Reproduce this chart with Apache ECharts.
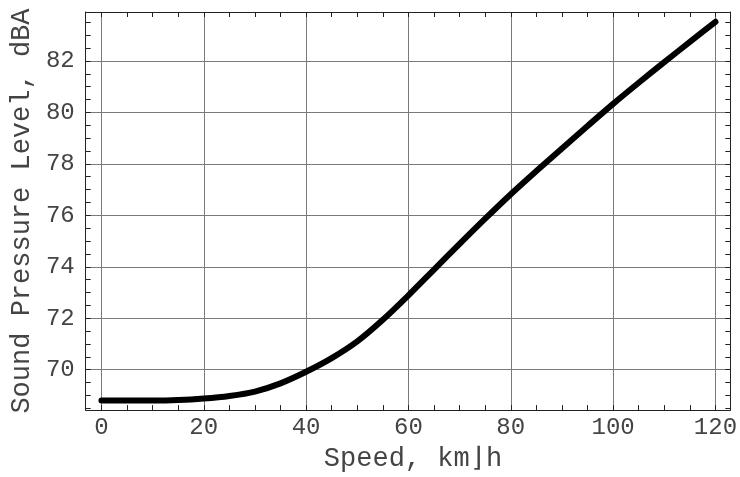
<!DOCTYPE html>
<html>
<head>
<meta charset="utf-8">
<script src="https://cdn.jsdelivr.net/npm/echarts@6/dist/echarts.min.js"></script>
<style>
  html, body { margin: 0; padding: 0; background: #fff; }
  #container { width: 740px; height: 477px; }
</style>
</head>
<body>
<div id="container"></div>
<script>
var dom = document.getElementById('container');
var myChart = echarts.init(dom);

// speed (km/h) -> sound pressure level (dBA)
var speed = [0, 5, 10, 15, 20, 25, 30, 35, 40, 45, 50, 55, 60, 65, 70, 75, 80, 85, 90, 95, 100, 105, 110, 115, 120];
var level = [68.8, 68.8, 68.8, 68.82, 68.88, 68.98, 69.15, 69.47, 69.92, 70.45, 71.1, 71.94, 72.89, 73.89, 74.89, 75.87, 76.82, 77.72, 78.6, 79.47, 80.33, 81.15, 81.95, 82.74, 83.52];

// tick positions
var xMajor = [0, 20, 40, 60, 80, 100, 120];
var xMinor = [0, 5, 10, 15, 20, 25, 30, 35, 40, 45, 50, 55, 60, 65, 70, 75, 80, 85, 90, 95, 100, 105, 110, 115, 120];
var yMajor = [70, 72, 74, 76, 78, 80, 82];
var yMinor = [68.5, 69, 69.5, 70, 70.5, 71, 71.5, 72, 72.5, 73, 73.5, 74, 74.5, 75, 75.5, 76, 76.5, 77, 77.5, 78, 78.5, 79, 79.5, 80, 80.5, 81, 81.5, 82, 82.5, 83, 83.5];

var xMin = -3.07, xMax = 122.9;
var yMin = 68.43, yMax = 83.9;

var data = speed.map(function (s, i) { return [s, level[i]]; });

var mono = "'Liberation Mono', 'DejaVu Sans Mono', monospace";
var frameColor = '#222';
var textColor = '#444';

// helper: an axis that only draws ticks (used for the frame)
function tickAxis(pos, min, max, ticks, extra) {
    var a = {
        type: 'value',
        position: pos,
        min: min,
        max: max,
        axisLine: { show: true, onZero: false, lineStyle: { color: frameColor, width: 1 } },
        axisTick: { show: true, inside: true, length: 5, customValues: ticks, lineStyle: { color: frameColor } },
        axisLabel: { show: false },
        splitLine: { show: false }
    };
    for (var k in extra) a[k] = extra[k];
    return a;
}

option = {
    backgroundColor: '#fff',
    animation: false,
    grid: {
        left: 83,
        right: 5,
        top: 12,
        bottom: 63
    },
    xAxis: [
        tickAxis('bottom', xMin, xMax, xMinor, {
            name: 'Speed, km\u230Bh',
            nameLocation: 'middle',
            nameGap: 34,
            nameTextStyle: { fontFamily: mono, fontSize: 27, color: textColor, padding: [0, 0, 0, 10] },
            axisLabel: { show: true, customValues: xMajor, margin: 6, fontFamily: mono, fontSize: 24, color: textColor }
        }),
        tickAxis('top', xMin, xMax, xMinor, {}),
        // gridlines
        {
            type: 'value', position: 'bottom', min: xMin, max: xMax,
            axisLine: { show: false },
            axisTick: { show: false, customValues: xMajor },
            axisLabel: { show: false },
            splitLine: { show: true, lineStyle: { color: '#7a7a7a', width: 1 } }
        }
    ],
    yAxis: [
        tickAxis('left', yMin, yMax, yMinor, {
            name: 'Sound Pressure Level, dBA',
            nameLocation: 'middle',
            nameGap: 48,
            nameTextStyle: { fontFamily: mono, fontSize: 27, color: textColor },
            axisLabel: { show: true, customValues: yMajor, margin: 11, fontFamily: mono, fontSize: 24, color: textColor }
        }),
        tickAxis('right', yMin, yMax, yMinor, {}),
        {
            type: 'value', position: 'left', min: yMin, max: yMax,
            axisLine: { show: false },
            axisTick: { show: false, customValues: yMajor },
            axisLabel: { show: false },
            splitLine: { show: true, lineStyle: { color: '#7a7a7a', width: 1 } }
        }
    ],
    series: [{
        type: 'line',
        xAxisIndex: 0,
        yAxisIndex: 0,
        data: data,
        smooth: 0.3,
        showSymbol: false,
        lineStyle: { color: '#000', width: 6, cap: 'round' },
        z: 5
    }]
};
myChart.setOption(option);

window.addEventListener('resize', function () {
    myChart.resize();
});
</script>
</body>
</html>
